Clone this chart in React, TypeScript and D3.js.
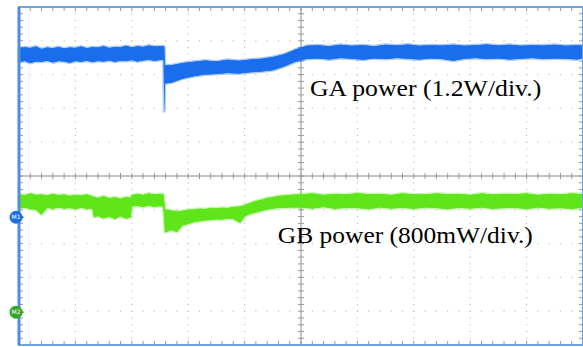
import React from 'react';
import * as d3 from 'd3';

// screen is 10 x 10 divisions: time in div (0..10), level in div from centre (-5..5)
const W = 583;
const H = 347;
const FRAME = { left: 19, right: 583, top: 7, bottom: 345 };

// GA power trace (blue): [time, band top, band bottom]
const gaBand = [
  [0, 3.77, 3.37], [0.1, 3.81, 3.4], [0.2, 3.79, 3.34], [0.3, 3.83, 3.39], [0.4, 3.76, 3.38],
  [0.5, 3.8, 3.41], [0.6, 3.78, 3.36], [0.7, 3.82, 3.4], [0.8, 3.77, 3.39], [0.9, 3.8, 3.35],
  [1.0, 3.79, 3.4], [1.1, 3.83, 3.38], [1.2, 3.78, 3.41], [1.3, 3.81, 3.37], [1.4, 3.8, 3.4],
  [1.5, 3.84, 3.39], [1.6, 3.79, 3.42], [1.7, 3.82, 3.38], [1.8, 3.81, 3.41], [1.9, 3.85, 3.4],
  [2.0, 3.8, 3.43], [2.1, 3.84, 3.39], [2.2, 3.82, 3.42], [2.3, 3.86, 3.44], [2.4, 3.83, 3.41],
  [2.5, 3.84, 3.43], [2.565, 3.84, 3.43], [2.575, 3.84, 1.88], [2.585, 3.28, 2.74],
  [2.7, 3.28, 2.76], [2.9, 3.34, 2.88], [3.1, 3.38, 2.95], [3.3, 3.42, 3.0], [3.5, 3.39, 3.02],
  [3.7, 3.44, 3.05], [3.9, 3.41, 3.03], [4.1, 3.45, 3.07], [4.3, 3.47, 3.09], [4.5, 3.52, 3.13],
  [4.7, 3.6, 3.24], [4.9, 3.74, 3.38], [5.1, 3.85, 3.46], [5.3, 3.87, 3.48], [5.5, 3.84, 3.45],
  [5.7, 3.88, 3.49], [5.9, 3.85, 3.47], [6.1, 3.87, 3.44], [6.3, 3.84, 3.48], [6.5, 3.88, 3.46],
  [6.7, 3.86, 3.49], [6.9, 3.89, 3.47], [7.1, 3.85, 3.45], [7.3, 3.87, 3.48], [7.5, 3.86, 3.46],
  [7.7, 3.88, 3.41], [7.9, 3.85, 3.47], [8.1, 3.87, 3.49], [8.3, 3.89, 3.46], [8.5, 3.86, 3.48],
  [8.7, 3.88, 3.45], [8.9, 3.85, 3.47], [9.1, 3.87, 3.49], [9.3, 3.86, 3.46], [9.5, 3.88, 3.48],
  [9.7, 3.85, 3.47], [9.9, 3.87, 3.45], [10, 3.86, 3.49],
];

// GB power trace (green)
const gbBand = [
  [0, -0.54, -0.96], [0.1, -0.57, -0.93], [0.2, -0.52, -0.98], [0.3, -0.56, -1.0], [0.4, -0.55, -1.14],
  [0.5, -0.58, -0.94], [0.6, -0.53, -0.97], [0.7, -0.57, -0.93], [0.8, -0.55, -0.96], [0.9, -0.59, -0.95],
  [1.0, -0.56, -0.98], [1.1, -0.58, -0.94], [1.2, -0.55, -0.97], [1.3, -0.6, -0.96],
  [1.33, -0.62, -1.22], [1.4, -0.65, -1.18], [1.5, -0.6, -1.25], [1.6, -0.66, -1.2], [1.7, -0.63, -1.27],
  [1.8, -0.67, -1.19], [1.9, -0.62, -1.26], [1.98, -0.64, -1.22],
  [2.0, -0.57, -0.9], [2.1, -0.53, -0.88], [2.2, -0.56, -0.92], [2.3, -0.52, -0.87], [2.4, -0.55, -0.91],
  [2.5, -0.53, -0.89], [2.56, -0.54, -0.92],
  [2.59, -0.99, -1.67], [2.7, -1.02, -1.6], [2.8, -1.05, -1.66], [2.9, -1.03, -1.46], [3.0, -1.0, -1.42],
  [3.1, -0.99, -1.36], [3.2, -0.97, -1.34], [3.3, -0.98, -1.31], [3.4, -0.95, -1.3], [3.5, -0.96, -1.28],
  [3.6, -0.94, -1.29], [3.7, -0.95, -1.26], [3.8, -0.92, -1.27], [3.92, -0.9, -1.38], [4.0, -0.86, -1.2],
  [4.1, -0.8, -1.12], [4.2, -0.74, -1.08], [4.3, -0.7, -1.03], [4.4, -0.65, -0.99], [4.5, -0.63, -0.97],
  [4.6, -0.59, -0.94], [4.7, -0.58, -0.95], [4.8, -0.56, -0.93],
  [5.0, -0.54, -0.93], [5.2, -0.52, -0.96], [5.4, -0.56, -0.92], [5.6, -0.53, -0.97], [5.8, -0.55, -0.94],
  [6.0, -0.51, -0.95], [6.2, -0.54, -0.98], [6.4, -0.53, -0.93], [6.6, -0.56, -0.96], [6.8, -0.52, -0.94],
  [7.0, -0.54, -0.97], [7.2, -0.55, -0.93], [7.4, -0.52, -0.95], [7.6, -0.54, -0.98], [7.8, -0.53, -0.94],
  [8.0, -0.56, -0.96], [8.2, -0.52, -0.93], [8.4, -0.55, -0.97], [8.6, -0.53, -0.95], [8.8, -0.54, -0.94],
  [9.0, -0.52, -0.98], [9.2, -0.56, -0.93], [9.4, -0.53, -0.96], [9.6, -0.55, -0.95], [9.8, -0.52, -0.97],
  [10, -0.54, -0.94],
];

// channel reference markers (div)
const markerLabels = ['M1', 'M2'];
const markerLevels = [-1.22, -4.03];
const markerColors = ['#1d6fe0', '#3aa32a'];

// annotations: text, start time (div), baseline level (div), drawn width (div)
const labelText = ['GA power (1.2W/div.)', 'GB power (800mW/div.)'];
const labelTime = [5.16, 4.59];
const labelLevel = [2.36, -1.99];
const labelSpan = [4.1, 4.52];

const BLUE = '#1a6eeb';
const GREEN = '#5fe61a';

export default function App() {
  const x = d3.scaleLinear().domain([0, 10]).range([FRAME.left, FRAME.right]);
  const y = d3.scaleLinear().domain([-5, 5]).range([FRAME.bottom, FRAME.top]);

  const band = (rows: number[][]) =>
    d3.area<number[]>()
      .x((r) => x(r[0]))
      .y0((r) => y(r[2]))
      .y1((r) => y(r[1]))(rows) as string;

  const divs = d3.range(0, 11);
  const minorX = d3.range(0, 10.01, 0.2);
  const minorY = d3.range(-5, 5.01, 0.2);

  const dots: React.ReactNode[] = [];
  divs.forEach((d) => {
    if (d === 0 || d === 10 || d === 5) return;
    minorX.forEach((m) => dots.push(<rect key={`h${d}-${m}`} x={x(m) - 0.6} y={y(d - 5) - 0.6} width={1.2} height={1.2} fill="#c4c4c4" />));
    minorY.forEach((m) => dots.push(<rect key={`v${d}-${m}`} x={x(d) - 0.6} y={y(m) - 0.6} width={1.2} height={1.2} fill="#c4c4c4" />));
  });

  const ticks: React.ReactNode[] = [];
  minorX.forEach((m, i) => {
    ticks.push(<line key={`tt${i}`} x1={x(m)} x2={x(m)} y1={y(5)} y2={y(5) + 4} />);
    ticks.push(<line key={`tb${i}`} x1={x(m)} x2={x(m)} y1={y(-5)} y2={y(-5) - 4} />);
    ticks.push(<line key={`tc${i}`} x1={x(m)} x2={x(m)} y1={y(0) - 3} y2={y(0) + 3} />);
  });
  minorY.forEach((m, i) => {
    ticks.push(<line key={`tl${i}`} x1={x(0)} x2={x(0) + 4} y1={y(m)} y2={y(m)} />);
    ticks.push(<line key={`tr${i}`} x1={x(10)} x2={x(10) - 4} y1={y(m)} y2={y(m)} />);
    ticks.push(<line key={`tm${i}`} x1={x(5) - 3} x2={x(5) + 3} y1={y(m)} y2={y(m)} />);
  });

  return (
    <svg width={W} height={H} style={{ position: 'absolute', left: 0, top: 0, background: '#fff' }}>
      <rect x={0} y={0} width={W} height={H} fill="#fff" />
      <g>{dots}</g>
      <line x1={x(0)} x2={x(10)} y1={y(0)} y2={y(0)} stroke="#8a8a8a" strokeWidth={1} />
      <line x1={x(5)} x2={x(5)} y1={y(-5)} y2={y(5)} stroke="#8a8a8a" strokeWidth={1} />
      <g stroke="#9a9a9a" strokeWidth={1}>{ticks}</g>

      {/* soft fringe gives the noisy edge of the traces */}
      <path d={band(gaBand)} fill={BLUE} stroke={BLUE} strokeWidth={3} strokeOpacity={0.35} strokeLinejoin="bevel" />
      <path d={band(gaBand)} fill={BLUE} stroke="none" />
      <path d={band(gbBand)} fill={GREEN} stroke={GREEN} strokeWidth={3} strokeOpacity={0.35} strokeLinejoin="bevel" />
      <path d={band(gbBand)} fill={GREEN} stroke="none" />

      <rect x={x(0)} y={y(5)} width={x(10) - x(0)} height={y(-5) - y(5)} fill="none" stroke="#6fa3dc" strokeWidth={2} />
      <line x1={x(0)} x2={x(0)} y1={y(5)} y2={y(-5)} stroke="#4f8fdc" strokeWidth={3} />

      {markerLabels.map((m, i) => (
        <g key={m}>
          <path d={`M${x(0) + 1},${y(markerLevels[i]) - 3} L${x(0) + 5},${y(markerLevels[i])} L${x(0) + 1},${y(markerLevels[i]) + 3} Z`} fill={markerColors[i]} />
          <circle cx={x(0) - 3} cy={y(markerLevels[i])} r={6.5} fill={markerColors[i]} />
          <text x={x(0) - 3} y={y(markerLevels[i]) + 2.2} fontSize={6} fill="#fff" textAnchor="middle" fontFamily="DejaVu Sans">{m}</text>
        </g>
      ))}

      {labelText.map((t, i) => (
        <text key={t} x={x(labelTime[i])} y={y(labelLevel[i])} fontSize={23} textLength={x(labelSpan[i]) - x(0)} lengthAdjust="spacingAndGlyphs"
          fontFamily="'Liberation Serif', 'Times New Roman', serif" fill="#000">{t}</text>
      ))}
    </svg>
  );
}
